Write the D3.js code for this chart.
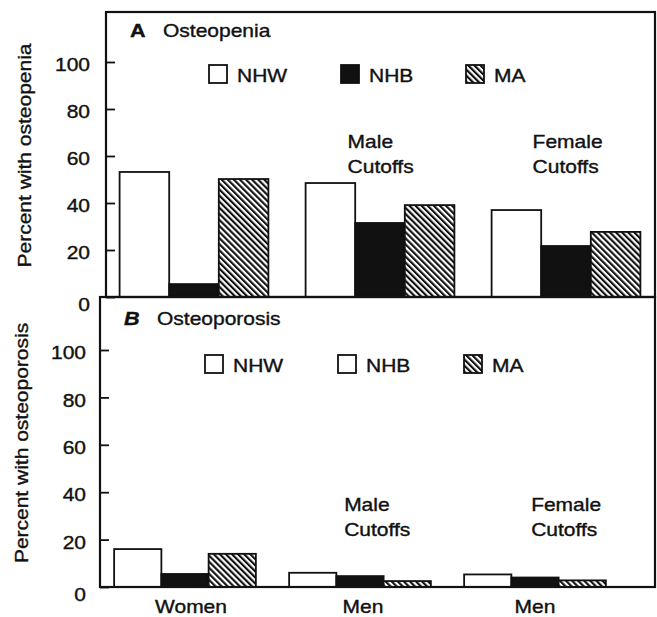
<!DOCTYPE html>
<html>
<head>
<meta charset="utf-8">
<script src="https://cdn.jsdelivr.net/npm/d3@7"></script>
<style>
  html, body { margin: 0; padding: 0; background: #fff; }
  svg { display: block; }
  text { font-family: "Liberation Sans", Arial, Helvetica, sans-serif; fill: #111; stroke: #111; stroke-width: 0.35px; }
</style>
</head>
<body>
<svg id="chart" width="657" height="617"></svg>
<script>
// ---------- data ----------
const groups = ["Women", "Men (male cutoffs)", "Men (female cutoffs)"];
const groupLabels = ["Women", "Men", "Men"];
const seriesNames = ["NHW", "NHB", "MA"];
// values per series, in group order
const osteopeniaNHW = [53.2, 48.5, 37.0];
const osteopeniaNHB = [5.5, 31.5, 21.7];
const osteopeniaMA  = [50.2, 39.1, 27.7];
const osteoporosisNHW = [16.0, 6.0, 5.3];
const osteoporosisNHB = [5.5, 4.6, 4.0];
const osteoporosisMA  = [14.0, 2.5, 2.8];
const yTicks = [0, 20, 40, 60, 80, 100];
const annotations = [["Male", "Cutoffs"], ["Female", "Cutoffs"]];

const svg = d3.select("#chart");
const SX = 1.2;      // horizontal stretch of the scanned lettering
const FS = 17.5;

// hatch pattern
const defs = svg.append("defs");
const pat = defs.append("pattern")
  .attr("id", "hatch").attr("patternUnits", "userSpaceOnUse")
  .attr("width", 4.3).attr("height", 4.3)
  .attr("patternTransform", "rotate(-45)");
pat.append("rect").attr("width", 4.3).attr("height", 4.3).attr("fill", "#fff");
pat.append("line").attr("x1", 1).attr("x2", 1).attr("y1", 0).attr("y2", 4.3)
  .attr("stroke", "#111").attr("stroke-width", 2.3);

function txt(g, x, y, s, o = {}) {
  const rot = o.rotate ? ` rotate(${o.rotate})` : "";
  return g.append("text")
    .attr("transform", `translate(${x},${y})${rot} scale(${SX},1)`)
    .attr("text-anchor", o.anchor || "start")
    .attr("font-size", o.size || FS)
    .attr("font-weight", o.weight || "normal")
    .attr("font-style", o.style || "normal")
    .text(s);
}

const fillFor = { NHW: "#fff", NHB: "#111", MA: "url(#hatch)" };

function panel(cfg) {
  const g = svg.append("g");
  const y = d3.scaleLinear().domain([0, 100]).range([cfg.y0, cfg.y100]);
  const x0 = d3.scaleBand().domain(groups).range(cfg.xRange)
    .paddingInner(cfg.pad).paddingOuter(cfg.pad / 2);
  const x1 = d3.scaleBand().domain(seriesNames).range([0, x0.bandwidth()]).padding(0);

  const data = groups.map((grp, i) => seriesNames.map(s => ({ grp, s, v: cfg.values[s][i] })));

  // bars
  g.selectAll("g.grp").data(data).join("g")
    .attr("transform", (d, i) => `translate(${x0(groups[i])},0)`)
    .selectAll("rect").data(d => d).join("rect")
    .attr("x", d => x1(d.s))
    .attr("width", x1.bandwidth())
    .attr("y", d => y(d.v))
    .attr("height", d => y(0) - y(d.v))
    .attr("fill", d => fillFor[d.s])
    .attr("stroke", "#111").attr("stroke-width", 1.8);

  // frame
  g.append("rect")
    .attr("x", cfg.left).attr("y", cfg.top)
    .attr("width", cfg.right - cfg.left).attr("height", cfg.y0 - cfg.top)
    .attr("fill", "none").attr("stroke", "#111").attr("stroke-width", 2.2);

  // y axis
  const ax = g.append("g").attr("transform", `translate(${cfg.left},0)`)
    .call(d3.axisLeft(y).tickValues(yTicks).tickSize(-9).tickPadding(cfg.tickPad));
  ax.select(".domain").remove();
  ax.selectAll(".tick line").attr("stroke", "#111").attr("stroke-width", 1.8);
  ax.selectAll(".tick text")
    .attr("font-size", FS).attr("fill", "#111")
    .attr("font-family", "Liberation Sans, Arial, sans-serif")
    .attr("transform", d => `translate(0,${d === 0 ? 8 : 3}) scale(${SX},1)`)
    .attr("x", -cfg.tickPad / SX);

  // y title
  txt(g, cfg.titleX, (cfg.y0 + cfg.top) / 2 + 1, cfg.yTitle, { rotate: -90, anchor: "middle" });

  // panel title
  txt(g, cfg.left + 24, cfg.titleY, cfg.letter, { weight: "bold", style: cfg.letterStyle, size: 18 });
  txt(g, cfg.left + 57, cfg.titleY, cfg.title);

  // legend
  seriesNames.forEach((s, i) => {
    const bx = cfg.legendX[i];
    g.append("rect").attr("x", bx).attr("y", cfg.legendY - 17)
      .attr("width", 18).attr("height", 18)
      .attr("fill", cfg.legendFill[i]).attr("stroke", "#111").attr("stroke-width", 1.8);
    txt(g, bx + 28, cfg.legendY, s);
  });

  // annotations for the two men groups
  annotations.forEach((lines, k) => {
    const gx = x0(groups[k + 1]) + cfg.annDx[k];
    lines.forEach((ln, j) => txt(g, gx, cfg.annY + j * 25, ln));
  });
  return { x0, y };
}

const panelA = panel({
  values: { NHW: osteopeniaNHW, NHB: osteopeniaNHB, MA: osteopeniaMA },
  left: 106, right: 655, top: 12, y0: 297, y100: 62,
  xRange: [101, 659], pad: 0.2, tickPad: 16,
  yTitle: "Percent with osteopenia", titleX: 31,
  letter: "A", letterStyle: "normal", title: "Osteopenia", titleY: 37,
  legendX: [209, 341, 466], legendY: 82,
  legendFill: ["#fff", "#111", "url(#hatch)"],
  annDx: [42, 41], annY: 148
});

const panelB = panel({
  values: { NHW: osteoporosisNHW, NHB: osteoporosisNHB, MA: osteoporosisMA },
  left: 100, right: 655, top: 297, y0: 587, y100: 350,
  xRange: [97.5, 622.5], pad: 0.19, tickPad: 14,
  yTitle: "Percent with osteoporosis", titleX: 28,
  letter: "B", letterStyle: "italic", title: "Osteoporosis", titleY: 325,
  legendX: [205, 338, 464], legendY: 372,
  legendFill: ["#fff", "#fff", "url(#hatch)"],
  annDx: [55, 67], annY: 511
});

// x category labels
const xLab = d3.scalePoint().domain(groups).range([191, 535]);
groups.forEach((grp, i) => txt(svg, xLab(grp), 613, groupLabels[i], { anchor: "middle" }));
</script>
</body>
</html>
